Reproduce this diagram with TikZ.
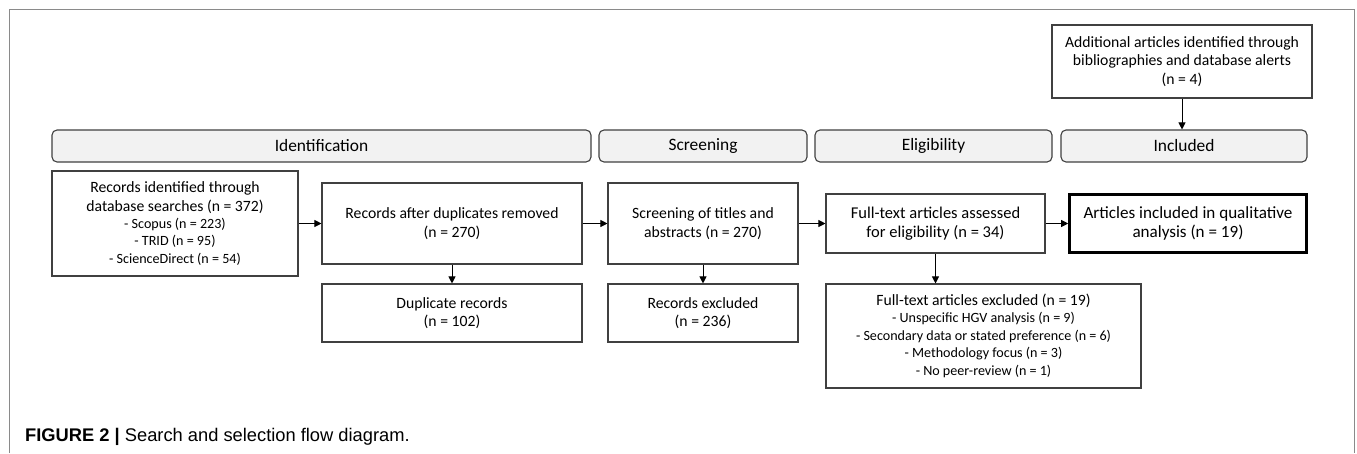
\documentclass[tikz,border=0pt]{standalone}
\usepackage{fontspec}
\setmainfont{Carlito}
\newfontfamily\capfont{Liberation Sans}
\usetikzlibrary{arrows.meta}
\definecolor{linecol}{HTML}{404040}
\definecolor{barfill}{HTML}{F2F2F2}
\definecolor{framecol}{HTML}{8A8A8A}
\tikzset{
  box/.style={draw=linecol, line width=1.1pt, rectangle, inner sep=0pt, align=center,
    font=\fontsize{15.7}{18.6}\selectfont},
  thickbox/.style={box, draw=black, line width=2.6pt},
  bar/.style={draw=linecol, line width=1.1pt, fill=barfill, rounded corners=5pt, inner sep=0pt,
    minimum height=32pt, font=\fontsize{17.4}{20}\selectfont},
  conn/.style={draw=black, line width=1pt, -{Triangle[length=7pt,width=7pt]}},
}
\newcommand{\smalltxt}{\fontsize{14.1}{16.7}\selectfont}
\begin{document}
\begin{tikzpicture}[x=1pt,y=-1pt]
\useasboundingbox (0,0) rectangle (1357,453);
\draw[framecol, line width=1pt] (9,453) -- (9,9) -- (1354,9) -- (1354,453);
% phase bars
\node[bar, minimum width=539pt] (id) at (321.5,146) {Identification};
\node[bar, minimum width=208pt] (scr) at (703,146) {Screening};
\node[bar, minimum width=237pt] (eli) at (933.5,146) {Eligibility};
\node[bar, minimum width=246pt] (inc) at (1184,146) {Included};
% boxes
\node[box, minimum width=246pt, minimum height=105pt] (b1) at (175,223.5)
  {Records identified through\\database searches (n = 372)\\[-1.5pt]
   {\smalltxt - Scopus (n = 223)}\\[-1pt]
   {\smalltxt - TRID (n = 95)}\\[-1pt]
   {\smalltxt - ScienceDirect (n = 54)}};
\node[box, minimum width=260pt, minimum height=81pt] (b2) at (452,223.5)
  {Records after duplicates removed\\(n = 270)};
\node[box, minimum width=260pt, minimum height=58pt] (b3) at (452,313)
  {Duplicate records\\(n = 102)};
\node[box, minimum width=190pt, minimum height=81pt] (b4) at (703,223.5)
  {Screening of titles and\\abstracts (n = 270)};
\node[box, minimum width=190pt, minimum height=58pt] (b5) at (703,313)
  {Records excluded\\(n = 236)};
\node[box, minimum width=219pt, minimum height=59pt] (b6) at (935.5,223.5)
  {\fontsize{16.5}{20.5}\selectfont Full-text articles assessed\\\fontsize{16.5}{20.5}\selectfont for eligibility (n = 34)};
\node[box, minimum width=315pt, minimum height=104pt] (b7) at (983.5,336)
  {Full-text articles excluded (n = 19)\\[-1.5pt]
   {\smalltxt - Unspecific HGV analysis (n = 9)}\\[-1pt]
   {\smalltxt - Secondary data or stated preference (n = 6)}\\[-1pt]
   {\smalltxt - Methodology focus (n = 3)}\\[-1pt]
   {\smalltxt - No peer-review (n = 1)}};
\node[thickbox, minimum width=237pt, minimum height=58pt] (b8) at (1188,223.5)
  {\fontsize{17.1}{21}\selectfont Articles included in qualitative\\\fontsize{17.1}{21}\selectfont analysis (n = 19)};
\node[box, minimum width=260pt, minimum height=73pt] (b9) at (1182,61.5)
  {Additional articles identified through\\bibliographies and database alerts\\(n = 4)};
% connectors
\draw[conn] (b1.east) -- (b2.west);
\draw[conn] (b2.east) -- (b4.west);
\draw[conn] (b4.east) -- (b6.west);
\draw[conn] (b6.east) -- (b8.west);
\draw[conn] (b2.south) -- (b3.north);
\draw[conn] (b4.south) -- (b5.north);
\draw[conn] (b6.south) -- (b6.south |- b7.north);
\draw[conn] (b9.south) -- (b9.south |- inc.north);
% caption
\node[anchor=base west, inner sep=0pt, font=\capfont\fontsize{18.3}{22}\selectfont] (cap) at (25,441)
  {\textbf{FIGURE 2 |} Search and selection flow diagram.};
\end{tikzpicture}
\end{document}
